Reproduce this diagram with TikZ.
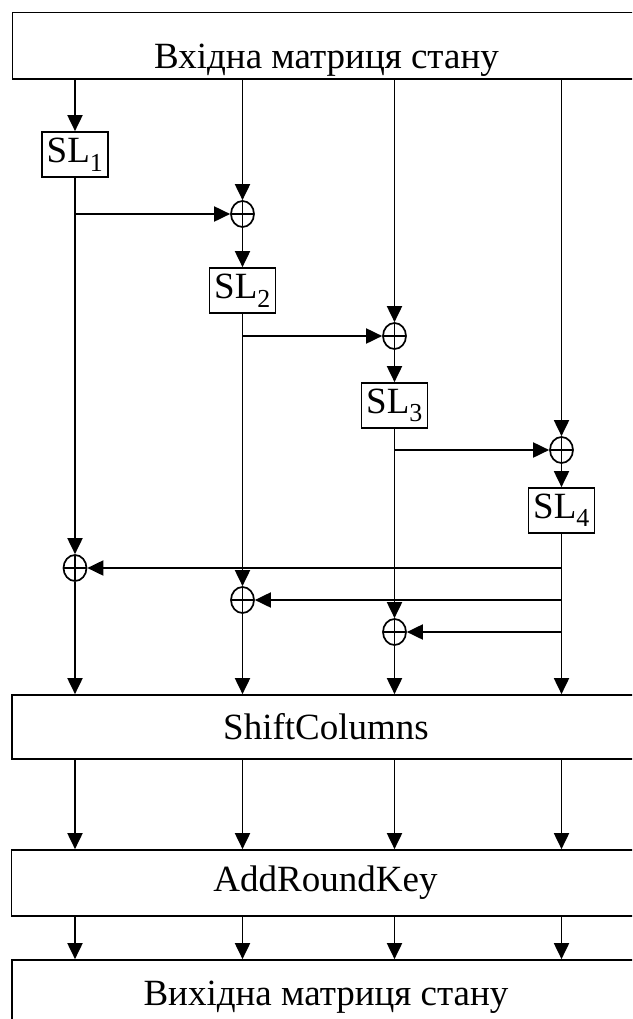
\documentclass[tikz,border=0pt]{standalone}
\usepackage{fontspec}
\setmainfont{Liberation Serif}
\usepackage{tikz}
\usetikzlibrary{arrows.meta,positioning,shapes.geometric}
\newcommand{\stagefont}{\fontsize{37}{42}\selectfont}

\begin{document}
\begin{tikzpicture}[x=1pt, y=-1pt, >={Triangle[length=16pt,width=15pt]}, line width=1.9pt,
  stage/.style={draw, line width=1.7pt, minimum width=628pt, inner sep=0pt, font=\stagefont},
  slbox/.style={draw, line width=1.7pt, minimum width=66pt, minimum height=45pt, inner sep=0pt, font=\stagefont},
  xorop/.style={draw, ellipse, line width=1.7pt, minimum width=23pt, minimum height=26pt, inner sep=0pt,
    path picture={\draw[line width=1.3pt] (path picture bounding box.north) -- (path picture bounding box.south)
      (path picture bounding box.west) -- (path picture bounding box.east);}}]
  \useasboundingbox (0,0) rectangle (632,1019);
  \clip (0,0) rectangle (632,1019);

  % state and round stages
  \node[stage, minimum height=66.5pt, text height=46pt, text depth=0pt] (in) at (326.5,45.75) {Вхідна матриця стану};
  \node[stage, minimum height=64pt] (sc) at (326,727) {ShiftColumns};
  \node[stage, minimum height=66pt] (ark) at (325.5,883) {AddRoundKey};
  \node[stage, minimum height=72pt, text height=18pt, text depth=0pt] (out) at (326,996) {Вихідна матриця стану};

  % SL blocks
  \node[slbox] (sl1) at (75,154.5) {SL\textsubscript{1}};
  \node[slbox] (sl2) at (242.5,290.5) {SL\textsubscript{2}};
  \node[slbox] (sl3) at (394.5,405.5) {SL\textsubscript{3}};
  \node[slbox] (sl4) at (561.5,510.5) {SL\textsubscript{4}};

  % xor
  \node[xorop] (x1) at (242.5,214) {};
  \node[xorop] (x2) at (394.5,336) {};
  \node[xorop] (x3) at (561.5,450) {};
  \node[xorop] (b1) at (75,568) {};
  \node[xorop] (b2) at (242.5,600) {};
  \node[xorop] (b3) at (394.5,632) {};

  \draw[->] (in.south -| sl1) -- (sl1);
  \draw[->] (in.south -| x1) -- (x1);
  \draw[->] (in.south -| x2) -- (x2);
  \draw[->] (in.south -| x3) -- (x3);

  \draw[->] (sl1) -- (b1);
  \draw[->] (sl1.south |- x1) -- (x1);
  \draw[->] (x1) -- (sl2);
  \draw[->] (sl2) -- (b2);
  \draw[->] (sl2.south |- x2) -- (x2);
  \draw[->] (x2) -- (sl3);
  \draw[->] (sl3) -- (b3);
  \draw[->] (sl3.south |- x3) -- (x3);
  \draw[->] (x3) -- (sl4);

  \draw[->] (sl4) -- (sc.north -| sl4);
  \draw[->] (sl4.south |- b1) -- (b1);
  \draw[->] (sl4.south |- b2) -- (b2);
  \draw[->] (sl4.south |- b3) -- (b3);
  \draw[->] (b1) -- (sc.north -| b1);
  \draw[->] (b2) -- (sc.north -| b2);
  \draw[->] (b3) -- (sc.north -| b3);

  \draw[->] (sc.south -| b1) -- (ark.north -| b1);
  \draw[->] (sc.south -| b2) -- (ark.north -| b2);
  \draw[->] (sc.south -| b3) -- (ark.north -| b3);
  \draw[->] (sc.south -| sl4) -- (ark.north -| sl4);

  \draw[->] (ark.south -| b1) -- (out.north -| b1);
  \draw[->] (ark.south -| b2) -- (out.north -| b2);
  \draw[->] (ark.south -| b3) -- (out.north -| b3);
  \draw[->] (ark.south -| sl4) -- (out.north -| sl4);
\end{tikzpicture}
\end{document}
